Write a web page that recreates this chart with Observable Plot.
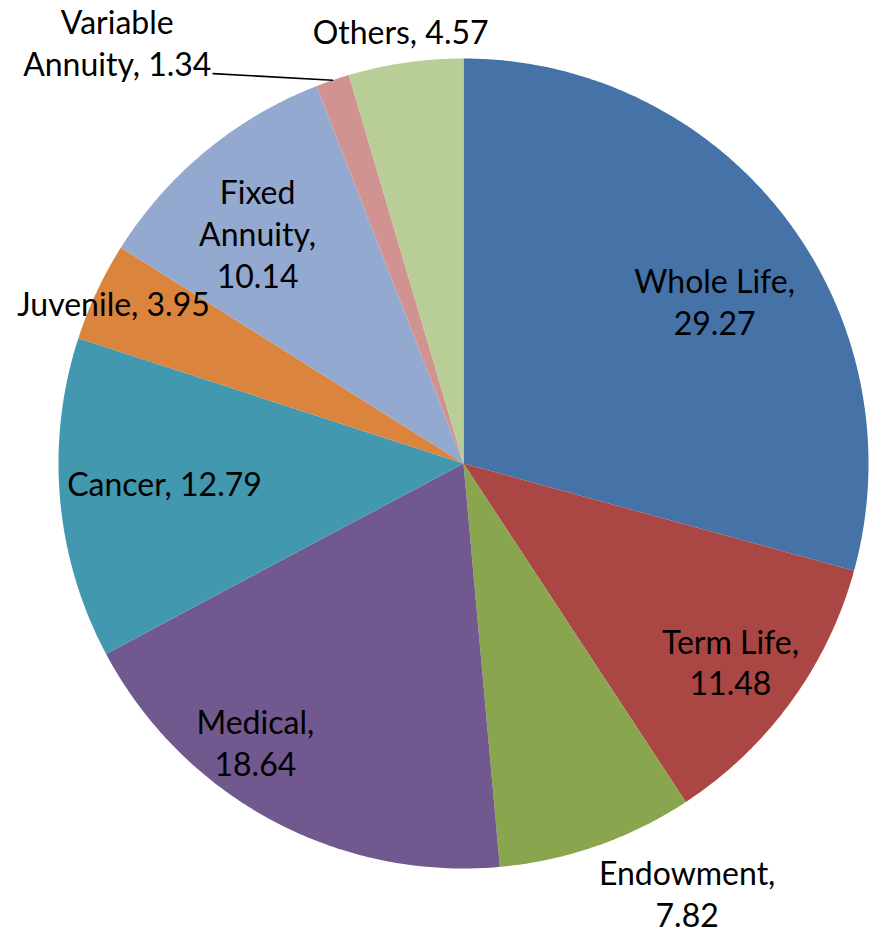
<!DOCTYPE html>
<html><head><meta charset="utf-8">
<script src="https://cdn.jsdelivr.net/npm/d3@7"></script>
<script src="https://cdn.jsdelivr.net/npm/@observablehq/plot@0.6"></script>
<style>html,body{margin:0;padding:0;background:#fff}</style>
</head><body><div id="chart"></div>
<script>
// ---- data ----
const categories = ["Whole Life","Term Life","Endowment","Medical","Cancer","Juvenile","Fixed Annuity","Variable Annuity","Others"];
const values = [29.27, 11.48, 7.82, 18.64, 12.79, 3.95, 10.14, 1.34, 4.57];
const colors = ["#4572A7","#AA4643","#89A54E","#71588F","#4198AF","#DB843D","#93A9CF","#D19392","#B9CD96"];
// how each label wraps: name lines and whether value goes on its own line
const labelNameLines = [["Whole Life"],["Term Life"],["Endowment"],["Medical"],["Cancer"],["Juvenile"],["Fixed","Annuity"],["Variable","Annuity"],["Others"]];
const valueOwnLine = [true, true, true, true, false, false, true, false, false];

// ---- layout (polar: degrees clockwise from top, radius as fraction of pie radius) ----
const labelAngle = [57.4, 126.8, 152.6, 216.6, 266.0, 294.4, 318.0, 320.5, 351.7];
const labelRadius = [0.736, 0.823, 1.200, 0.862, 0.740, 0.949, 0.760, 1.344, 1.0755];
const leaderFrom = {angle: 327.3, radius: 1.144}; // for Variable Annuity

// ---- build ----
const pie = d3.pie().sort(null).startAngle(0).endAngle(2 * Math.PI)(values);
const slicePts = [];
pie.forEach((p, i) => {
  const name = categories[i];
  slicePts.push({name, x: 0, y: 0});
  const n = Math.max(2, Math.ceil((p.endAngle - p.startAngle) / (Math.PI / 360)));
  for (let k = 0; k <= n; k++) {
    const a = p.startAngle + (p.endAngle - p.startAngle) * k / n;
    slicePts.push({name, x: Math.sin(a), y: Math.cos(a)});
  }
  slicePts.push({name, x: 0, y: 0});
});

const rad = d => d * Math.PI / 180;
const labels = categories.map((c, i) => {
  const lines = labelNameLines[i].slice();
  const v = values[i].toFixed(2);
  if (valueOwnLine[i]) { lines[lines.length - 1] += ","; lines.push(v); }
  else { lines[lines.length - 1] += ", " + v; }
  return {
    text: lines.join("\n"),
    x: labelRadius[i] * Math.sin(rad(labelAngle[i])),
    y: labelRadius[i] * Math.cos(rad(labelAngle[i]))
  };
});

const vaIdx = categories.indexOf("Variable Annuity");
const vaMid = (pie[vaIdx].startAngle + pie[vaIdx].endAngle) / 2;
const leader = [
  {x: leaderFrom.radius * Math.sin(rad(leaderFrom.angle)), y: leaderFrom.radius * Math.cos(rad(leaderFrom.angle))},
  {x: Math.sin(vaMid), y: Math.cos(vaMid)}
];

const chart = Plot.plot({
  width: 870,
  height: 930,
  margin: 0,
  style: {background: "#fff"},
  x: {domain: [-1, 1], range: [58, 868], axis: null},
  y: {domain: [-1, 1], range: [868, 58], axis: null},
  color: {domain: categories, range: colors},
  marks: [
    Plot.line(slicePts, {x: "x", y: "y", z: "name", fill: "name", stroke: "none", curve: "linear"}),
    Plot.line(leader, {x: "x", y: "y", stroke: "#000", strokeWidth: 1.6}),
    Plot.text(labels, {
      x: "x", y: "y", text: "text", dy: -2,
      fill: "#000", fontSize: 32, fontFamily: "Lato, 'Noto Sans', sans-serif",
      lineHeight: 1.3, textAnchor: "middle", lineAnchor: "middle"
    })
  ]
});
document.getElementById("chart").appendChild(chart);
</script>
</body></html>
